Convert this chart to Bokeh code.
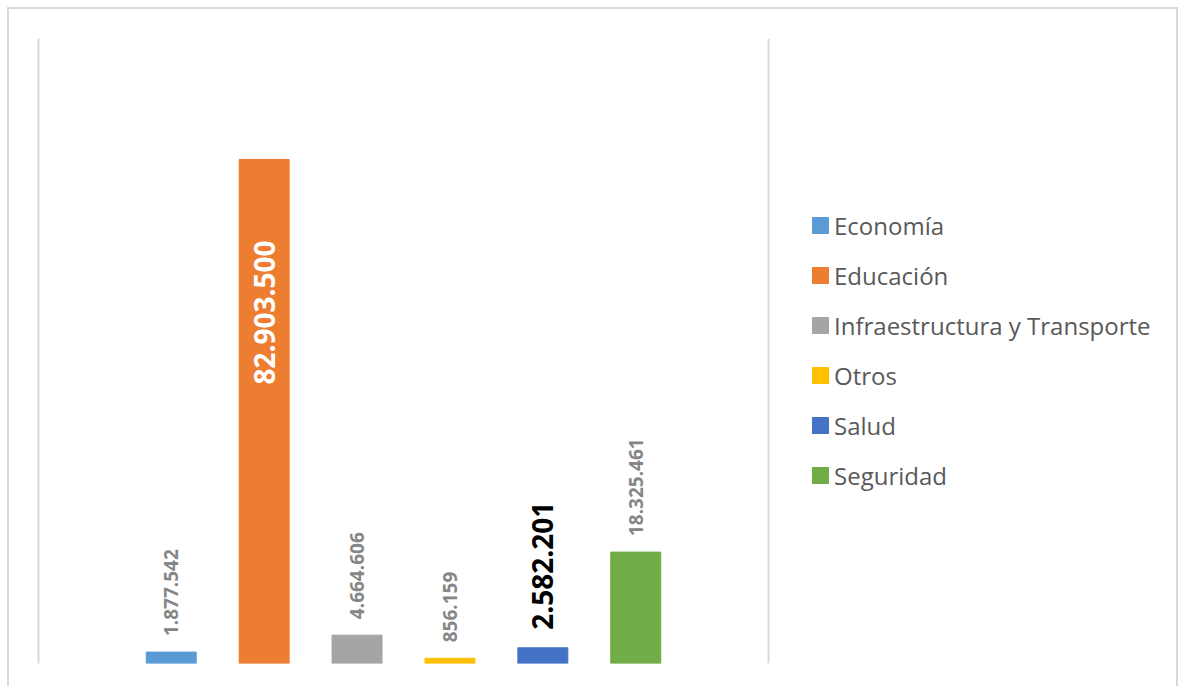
import math
from bokeh.plotting import figure
from bokeh.models import ColumnDataSource, Range1d, Span, FixedTicker
from bokeh.core.properties import value
from bokeh.embed import file_html
from bokeh.resources import INLINE

categories = ["Economía", "Educación", "Infraestructura y Transporte", "Otros", "Salud", "Seguridad"]
values = [1877542, 82903500, 4664606, 856159, 2582201, 18325461]
labels = ["1.877.542", "82.903.500", "4.664.606", "856.159", "2.582.201", "18.325.461"]
colors = ["#5B9BD5", "#ED7D31", "#A5A5A5", "#FFC000", "#4472C4", "#70AD47"]

xs = list(range(len(categories)))
src = ColumnDataSource(dict(x=xs, top=values, cat=categories, color=colors))

# plot area spans [AREA_START, AREA_END] in x units (730 px); the frame also holds the legend
AREA_START, AREA_END = -1.429, 6.429
AREA_PX = 730
FRAME_PX = 1140
x_end = AREA_START + (AREA_END - AREA_START) * FRAME_PX / AREA_PX

p = figure(width=1171, height=679,
           x_range=Range1d(AREA_START, x_end), y_range=Range1d(0, 102.8e6),
           output_backend="svg", toolbar_location=None,
           x_axis_location=None, y_axis_location="left",
           min_border_left=29, min_border_top=29, min_border_right=2, min_border_bottom=25)
p.styles = {"margin-left": "7px", "margin-top": "7px",
            "border-top": "2px solid #D9D9D9", "border-left": "2px solid #D9D9D9",
            "border-right": "2px solid #D9D9D9"}
p.outline_line_color = None
p.xgrid.visible = False
p.ygrid.visible = False
p.background_fill_color = "white"
p.border_fill_color = "white"

ax = p.yaxis[0]
ax.ticker = FixedTicker(ticks=[], minor_ticks=[])
ax.axis_line_color = "#D9D9D9"
ax.axis_line_width = 2
ax.major_tick_line_color = None
ax.minor_tick_line_color = None
ax.major_tick_out = 0
ax.minor_tick_out = 0
ax.major_label_standoff = 0

p.add_layout(Span(location=AREA_END, dimension="height", line_color="#D9D9D9", line_width=2))

p.vbar(x="x", top="top", width=0.538, color="color", legend_field="cat", source=src)

def sub(idx):
    return ColumnDataSource(dict(x=[xs[i] for i in idx],
                                 y=[values[i] for i in idx],
                                 label=[labels[i] for i in idx]))

common = dict(x="x", y="y", text="label", angle=math.pi / 2, text_baseline="middle",
              text_font=value("Open Sans"), text_font_style="bold")
p.text(source=sub([0, 2, 3, 5]), text_align="left", y_offset=-16,
       text_font_size="19px", text_color="#868686", **common)
p.text(source=sub([4]), text_align="left", y_offset=-18,
       text_font_size="28px", text_color="#000000", **common)
p.text(source=sub([1]), text_align="right", y_offset=81,
       text_font_size="28px", text_color="#FFFFFF", **common)

leg = p.legend[0]
leg.location = (772, 171)
leg.border_line_color = None
leg.background_fill_alpha = 0
leg.padding = 0
leg.margin = 0
leg.glyph_width = 20
leg.glyph_height = 20
leg.label_standoff = 4
leg.label_height = 34
leg.spacing = 16
leg.label_text_font = "Open Sans"
leg.label_text_font_size = "24px"
leg.label_text_color = "#595959"

open("out.html", "w").write(file_html(p, INLINE))
